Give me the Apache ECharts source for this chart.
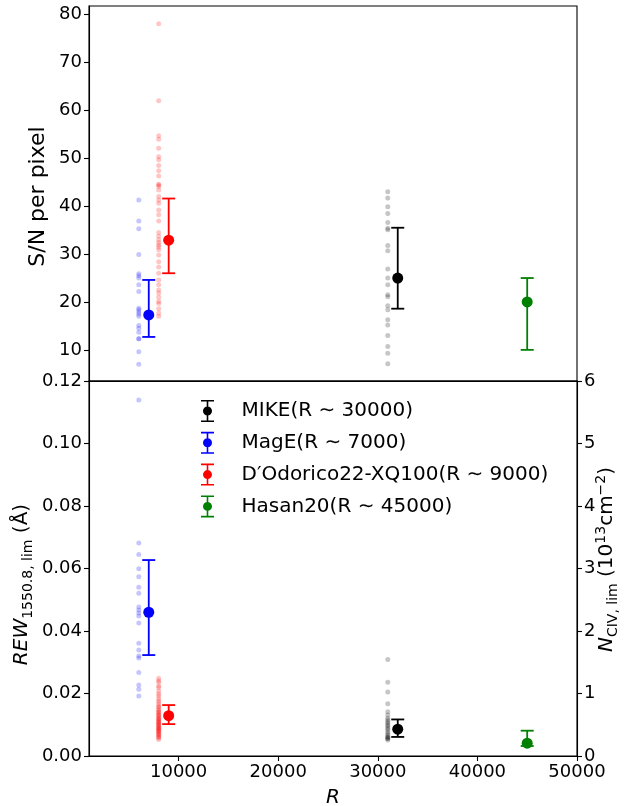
<!DOCTYPE html>
<html>
<head>
<meta charset="utf-8">
<script src="https://cdn.jsdelivr.net/npm/echarts@6/dist/echarts.min.js"></script>
<style>html,body{margin:0;padding:0;background:#fff}#c{width:624px;height:806px}</style>
</head>
<body>
<div id="c"></div>
<script>
// ---------------- data ----------------
const instruments = ['MIKE(R \u223C 30000)', 'MagE(R \u223C 7000)', 'D\u2032Odorico22-XQ100(R \u223C 9000)', 'Hasan20(R \u223C 45000)'];
const colors = ['#000000', '#0000ff', '#ff0000', '#008000'];
const cloudColors = ['rgba(0,0,0,0.28)', 'rgba(0,0,255,0.28)', 'rgba(255,0,0,0.28)'];
const meanR = [32000, 7000, 9000, 45000];
const snMean = [25.0, 17.3, 32.9, 20.0];
const snLow = [18.6, 12.7, 26.0, 10.0];
const snHigh = [35.5, 24.6, 41.6, 25.0];
const rewMean = [0.0086, 0.0460, 0.0129, 0.0041];
const rewLow = [0.0061, 0.0323, 0.0102, 0.0032];
const rewHigh = [0.0117, 0.0627, 0.0163, 0.0081];
// individual spectra (clouds) : MIKE, MagE, XQ100
const cloudR = [31000, 6000, 8000];
const snMike = [43.0, 41.7, 39.9, 38.5, 36.6, 35.4, 35.1, 31.8, 30.7, 26.9, 25.0, 23.6, 21.5, 21.1, 19.2, 18.4, 16.3, 15.2, 13.0, 10.7, 9.3, 7.1];
const snMagE = [41.3, 36.9, 35.3, 29.9, 25.9, 25.5, 25.0, 23.6, 22.2, 18.7, 18.4, 17.9, 17.5, 17.0, 15.1, 14.5, 13.7, 12.3, 12.3, 9.6, 7.0];
const snXQ = [78.1, 62.0, 54.7, 54.0, 52.1, 50.3, 49.7, 48.5, 47.4, 46.3, 44.6, 44.1, 44.4, 43.4, 42.0, 41.3, 40.6, 39.2, 38.2, 36.9, 34.5, 33.7, 33.0, 32.4, 31.9, 31.5, 30.9, 29.8, 28.4, 27.3, 26.0, 24.6, 23.6, 22.5, 21.9, 21.0, 20.1, 19.7, 18.6, 17.7, 17.0];
const rewMike = [0.0309, 0.0236, 0.0205, 0.0167, 0.0142, 0.0131, 0.0121, 0.0115, 0.0110, 0.0105, 0.0099, 0.0095, 0.0089, 0.0085, 0.0078, 0.0072, 0.0067, 0.0062, 0.0060, 0.0057, 0.0055, 0.0051];
const rewMagE = [0.1139, 0.0682, 0.0645, 0.0599, 0.0574, 0.0540, 0.0521, 0.0477, 0.0467, 0.0458, 0.0448, 0.0426, 0.0361, 0.0339, 0.0320, 0.0314, 0.0267, 0.0227, 0.0214, 0.0192];
const rewXQ = [0.0249, 0.0241, 0.0236, 0.0224, 0.0219, 0.0208, 0.0199, 0.0193, 0.0184, 0.0177, 0.0171, 0.0164, 0.0158, 0.0156, 0.0149, 0.0146, 0.0141, 0.0139, 0.0134, 0.0131, 0.0129, 0.0124, 0.0121, 0.0118, 0.0117, 0.0113, 0.0110, 0.0107, 0.0106, 0.0102, 0.0099, 0.0098, 0.0094, 0.0091, 0.0089, 0.0087, 0.0084, 0.0082, 0.0079, 0.0077, 0.0073, 0.0070, 0.0068, 0.0064, 0.0061, 0.0058, 0.0053];
const xTicks = [10000, 20000, 30000, 40000, 50000];
const snTicks = [10, 20, 30, 40, 50, 60, 70, 80];
const rewTicks = [0, 0.02, 0.04, 0.06, 0.08, 0.10, 0.12];
const nTicks = [0, 1, 2, 3, 4, 5, 6];

// ---------------- chart ----------------
const FONT = 'DejaVu Sans';
const chart = echarts.init(document.getElementById('c'), null, {renderer: 'canvas'});
const axisLine = {show: true, lineStyle: {color: '#000', width: 1.1}};
const tick = {show: true, inside: false, length: 5, lineStyle: {color: '#000', width: 1.1}};
const lbl = {color: '#000', fontSize: 18, fontFamily: FONT, margin: 7};

function errorBar(color) {
  return function (params, api) {
    const x = api.value(0), lo = api.value(1), hi = api.value(2);
    const a = api.coord([x, hi]), b = api.coord([x, lo]);
    const w = 6.5;
    const st = {stroke: color, lineWidth: 1.8};
    return {type: 'group', children: [
      {type: 'line', shape: {x1: a[0], y1: a[1], x2: b[0], y2: b[1]}, style: st},
      {type: 'line', shape: {x1: a[0] - w, y1: a[1], x2: a[0] + w, y2: a[1]}, style: st},
      {type: 'line', shape: {x1: b[0] - w, y1: b[1], x2: b[0] + w, y2: b[1]}, style: st}
    ]};
  };
}

const series = [];
const snClouds = [snMike, snMagE, snXQ];
const rewClouds = [rewMike, rewMagE, rewXQ];
[0, 1].forEach(function (g) {
  const clouds = g === 0 ? snClouds : rewClouds;
  clouds.forEach(function (arr, k) {
    series.push({type: 'scatter', xAxisIndex: g, yAxisIndex: g, symbolSize: 5, z: 2, silent: true,
      itemStyle: {color: cloudColors[k]}, data: arr.map(function (v) { return [cloudR[k], v]; })});
  });
  const m = g === 0 ? snMean : rewMean, lo = g === 0 ? snLow : rewLow, hi = g === 0 ? snHigh : rewHigh;
  instruments.forEach(function (name, i) {
    series.push({type: 'custom', xAxisIndex: g, yAxisIndex: g, z: 3, silent: true,
      renderItem: errorBar(colors[i]), encode: {x: 0, y: [1, 2]},
      data: [[meanR[i], lo[i], hi[i]]]});
    series.push({type: 'scatter', name: name, xAxisIndex: g, yAxisIndex: g, symbolSize: 11, z: 4,
      itemStyle: {color: colors[i], opacity: 1}, data: [[meanR[i], m[i]]]});
  });
});

const legendIcon = 'path://M0.5,0H13.5V1.6H0.5Z M6.2,0H7.8V22H6.2Z M0.5,20.4H13.5V22H0.5Z M11.5,11A4.5,4.5 0 1 1 2.5,11A4.5,4.5 0 1 1 11.5,11Z';

const option = {
  animation: false,
  backgroundColor: '#fff',
  textStyle: {fontFamily: FONT},
  grid: [
    {left: 89, right: 47, top: 6, height: 375, show: true, borderColor: '#000', borderWidth: 1.1,
      backgroundColor: 'transparent', containLabel: false, outerBoundsMode: 'none'},
    {left: 89, right: 47, top: 381, height: 375, show: true, borderColor: '#000', borderWidth: 1.1,
      backgroundColor: 'transparent', containLabel: false, outerBoundsMode: 'none'}
  ],
  legend: {
    orient: 'vertical', left: 196, top: 395, itemWidth: 14, itemHeight: 22, itemGap: 9.8,
    textStyle: {fontSize: 20, fontFamily: FONT, color: '#000', padding: [0, 0, 0, 22]},
    data: instruments.map(function (n) { return {name: n, icon: legendIcon}; })
  },
  xAxis: [
    {type: 'value', gridIndex: 0, min: 1000, max: 50000, axisLine: axisLine, axisTick: {show: false},
      axisLabel: {show: false}, splitLine: {show: false}},
    {type: 'value', gridIndex: 1, min: 1000, max: 50000, axisLine: axisLine,
      axisTick: Object.assign({}, tick, {customValues: xTicks}),
      axisLabel: Object.assign({}, lbl, {customValues: xTicks, formatter: function (v) { return String(v); }}),
      splitLine: {show: false},
      name: 'R', nameLocation: 'middle', nameGap: 32,
      nameTextStyle: {fontSize: 20, fontStyle: 'italic', fontFamily: FONT, color: '#000'}}
  ],
  yAxis: [
    {type: 'value', gridIndex: 0, min: 3.5, max: 81.8, axisLine: axisLine,
      axisTick: Object.assign({}, tick, {customValues: snTicks}),
      axisLabel: Object.assign({}, lbl, {customValues: snTicks}),
      splitLine: {show: false},
      name: 'S/N per pixel', nameLocation: 'middle', nameGap: 51, nameRotate: 90, nameMoveOverlap: false,
      nameTextStyle: {fontSize: 22, fontFamily: FONT, color: '#000', verticalAlign: 'middle', padding: [0, 6, 0, 0]}},
    {type: 'value', gridIndex: 1, min: 0, max: 0.12, interval: 0.02, axisLine: axisLine, axisTick: tick,
      axisLabel: Object.assign({}, lbl, {formatter: function (v) { return v.toFixed(2); }}),
      splitLine: {show: false},
      name: '{i|REW}{s|1550.8, lim}{n| (\u00C5)}', nameLocation: 'middle', nameGap: 67, nameRotate: 90, nameMoveOverlap: false,
      nameTextStyle: {color: '#000', verticalAlign: 'middle', padding: [0, 32, 0, 0], rich: {
        i: {fontSize: 20, fontStyle: 'italic', fontFamily: FONT, color: '#000', lineHeight: 26, verticalAlign: 'middle'},
        s: {fontSize: 14, fontFamily: FONT, color: '#000', lineHeight: 14, verticalAlign: 'bottom'},
        n: {fontSize: 20, fontFamily: FONT, color: '#000', lineHeight: 26, verticalAlign: 'middle'}}}},
    {type: 'value', gridIndex: 1, position: 'right', min: 0, max: 6, interval: 1, axisLine: axisLine, axisTick: tick,
      axisLabel: lbl, splitLine: {show: false},
      name: '{i|N}{s|CIV, lim}{n| (10}{p|13}{n|cm}{p|\u22122}{n|)}', nameLocation: 'middle', nameGap: 30, nameRotate: 90, nameMoveOverlap: false,
      nameTextStyle: {color: '#000', verticalAlign: 'middle', padding: [0, 0, 0, 18], rich: {
        i: {fontSize: 20, fontStyle: 'italic', fontFamily: FONT, color: '#000', lineHeight: 26, verticalAlign: 'middle'},
        s: {fontSize: 14, fontFamily: FONT, color: '#000', lineHeight: 14, verticalAlign: 'bottom'},
        p: {fontSize: 14, fontFamily: FONT, color: '#000', lineHeight: 14, verticalAlign: 'top'},
        n: {fontSize: 20, fontFamily: FONT, color: '#000', lineHeight: 26, verticalAlign: 'middle'}}}}
  ],
  series: series
};
chart.setOption(option);
</script>
</body>
</html>
